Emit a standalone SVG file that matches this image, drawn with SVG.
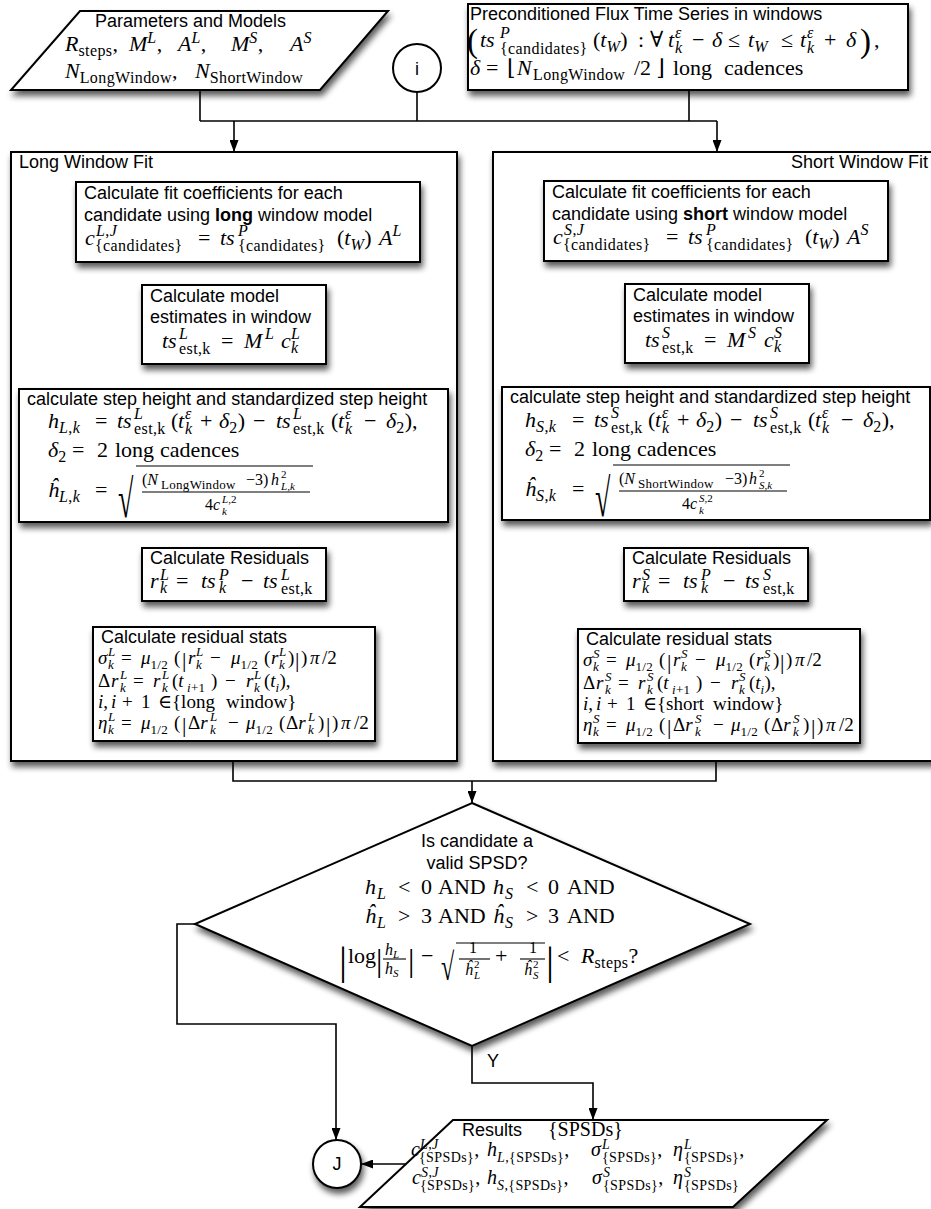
<svg xmlns="http://www.w3.org/2000/svg" width="931" height="1209" viewBox="0 0 931 1209">
<defs>
<style>
.t{font-family:"Liberation Sans",Arial,sans-serif;font-size:18px;fill:#000}
.m{font-family:"Liberation Serif","DejaVu Serif",serif;font-size:22px;fill:#000}
.st{font-size:19px}
.f{font-size:16px}
.r20{font-size:20px}
.i{font-style:italic}
.s{font-size:16px;letter-spacing:.4px}
.s2{font-size:13px;letter-spacing:.3px}
.s3{font-size:11px}
.s4{font-size:14px;letter-spacing:.4px}
.b{font-weight:bold}
.big{font-size:33px}
.bar{font-size:22px}
.box{fill:#fff;stroke:#000;stroke-width:2}
.ln{fill:none;stroke:#000;stroke-width:1.6}
.rule{stroke:#000;stroke-width:1.1;fill:none}
</style>
<filter id="sh" x="-20%" y="-20%" width="140%" height="150%">
<feGaussianBlur in="SourceAlpha" stdDeviation="3"/>
<feOffset dx="2" dy="5"/>
<feComponentTransfer><feFuncA type="linear" slope="0.65"/></feComponentTransfer>
<feMerge><feMergeNode/><feMergeNode in="SourceGraphic"/></feMerge>
</filter>
<marker id="ah" viewBox="0 0 12 9" refX="12" refY="4.5" markerWidth="12" markerHeight="9" markerUnits="userSpaceOnUse" orient="auto"><path d="M0,0 L12,4.5 L0,9 z" fill="#000"/></marker>
</defs>
<rect x="0" y="0" width="931" height="1209" fill="#fff"/>

<g id="params">
<polygon class="box" filter="url(#sh)" points="80,11 388,11 320,90 11,90"/>
<text class="t" x="95" y="27">Parameters and Models</text>
<text class="m"><tspan class="i" x="65" y="51">R</tspan><tspan class="s" y="56">steps</tspan><tspan y="51">,</tspan><tspan class="i" x="129" y="51">M</tspan><tspan class="s i" y="43">L</tspan><tspan y="51">,</tspan><tspan class="i" x="178" y="51">A</tspan><tspan class="s i" y="43">L</tspan><tspan y="51">,</tspan><tspan class="i" x="231" y="51">M</tspan><tspan class="s i" y="43">S</tspan><tspan y="51">,</tspan><tspan class="i" x="290" y="51">A</tspan><tspan class="s i" y="43">S</tspan></text>
<text class="m"><tspan class="i" x="65" y="78">N</tspan><tspan class="s" y="83">LongWindow</tspan><tspan y="78">,</tspan><tspan class="i" x="195" y="78">N</tspan><tspan class="s" y="83">ShortWindow</tspan></text>
</g>

<g id="connector-i">
<circle class="box" cx="417" cy="68" r="24"/>
<text class="t" x="417" y="75" text-anchor="middle">i</text>
</g>

<g id="precond">
<rect class="box" filter="url(#sh)" x="468" y="4" width="440" height="86"/>
<text class="t" x="470" y="20">Preconditioned Flux Time Series in windows</text>
<text class="m"><tspan class="big" x="467" y="52">(</tspan><tspan class="i" x="480" y="47">ts</tspan><tspan class="s i" x="500" y="38">P</tspan><tspan class="s" x="500" y="54">{candidates}</tspan><tspan x="593" y="47">(</tspan><tspan class="i">t</tspan><tspan class="s i" y="52">W</tspan><tspan y="47">)</tspan><tspan x="638">:</tspan><tspan x="650">∀</tspan><tspan class="i" x="668">t</tspan><tspan class="s i" x="675" y="38">ε</tspan><tspan class="s i" x="675" y="53">k</tspan><tspan x="692" y="47">−</tspan><tspan class="i" x="712">δ</tspan><tspan x="728">≤</tspan><tspan class="i" x="748">t</tspan><tspan class="s i" y="52">W</tspan><tspan x="781" y="47">≤</tspan><tspan class="i" x="800">t</tspan><tspan class="s i" x="807" y="38">ε</tspan><tspan class="s i" x="807" y="53">k</tspan><tspan x="824" y="47">+</tspan><tspan class="i" x="846">δ</tspan><tspan class="big" x="860" y="52">)</tspan><tspan x="874" y="47">,</tspan></text>
<text class="m"><tspan class="i" x="470" y="75">δ</tspan><tspan x="486">=</tspan><tspan x="507">⌊</tspan><tspan class="i" x="517">N</tspan><tspan class="s" x="533" y="80">LongWindow</tspan><tspan x="634" y="75">/2</tspan><tspan x="656">⌋</tspan><tspan x="673">long</tspan><tspan x="724">cadences</tspan></text>
</g>

<g id="long-fit">
<rect class="box" filter="url(#sh)" x="11" y="152" width="446" height="609"/>
<text class="t" x="19" y="168">Long Window Fit</text>

<g id="long-coef">
<rect class="box" filter="url(#sh)" x="76" y="182" width="344" height="80"/>
<text class="t" x="84" y="199">Calculate fit coefficients for each</text>
<text class="t" x="84" y="221">candidate using <tspan class="b">long</tspan> window model</text>
<text class="m"><tspan class="i" x="85" y="245">c</tspan><tspan class="s" x="96" y="236"><tspan class="i">L</tspan>,<tspan class="i">J</tspan></tspan><tspan class="s" x="95" y="251">{candidates}</tspan><tspan x="198" y="245">=</tspan><tspan class="i" x="220">ts</tspan><tspan class="s i" x="238" y="236">P</tspan><tspan class="s" x="238" y="251">{candidates}</tspan><tspan x="337" y="245">(</tspan><tspan class="i">t</tspan><tspan class="s i" y="250">W</tspan><tspan y="245">)</tspan><tspan class="i" x="379">A</tspan><tspan class="s i" y="236">L</tspan></text>
</g>

<g id="long-model">
<rect class="box" filter="url(#sh)" x="142" y="285" width="184" height="79"/>
<text class="t" x="150" y="302">Calculate model</text>
<text class="t" x="150" y="323">estimates in window</text>
<text class="m"><tspan class="i" x="162" y="348">ts</tspan><tspan class="s i" x="179" y="339">L</tspan><tspan class="s" x="179" y="354">est,k</tspan><tspan x="221" y="348">=</tspan><tspan class="i" x="244">M</tspan><tspan class="s i" x="265" y="339">L</tspan><tspan class="i" x="281" y="348">c</tspan><tspan class="s i" x="291" y="339">L</tspan><tspan class="s i" x="291" y="353">k</tspan></text>
</g>

<g id="long-step">
<rect class="box" filter="url(#sh)" x="19" y="389" width="429" height="133"/>
<text class="t" x="27" y="405">calculate step height and standardized step height</text>
<text class="m"><tspan class="i" x="48" y="428">h</tspan><tspan class="s" x="59" y="433"><tspan class="i">L</tspan>,<tspan class="i">k</tspan></tspan><tspan x="95" y="428">=</tspan><tspan class="i" x="117">ts</tspan><tspan class="s i" x="134" y="419">L</tspan><tspan class="s" x="134" y="434">est,k</tspan><tspan x="171" y="428">(</tspan><tspan class="i" x="178">t</tspan><tspan class="s i" x="185" y="419">ε</tspan><tspan class="s i" x="185" y="434">k</tspan><tspan x="200" y="428">+</tspan><tspan class="i" x="219">δ</tspan><tspan class="s" y="433">2</tspan><tspan y="428">)</tspan><tspan x="253">−</tspan><tspan class="i" x="276">ts</tspan><tspan class="s i" x="293" y="419">L</tspan><tspan class="s" x="293" y="434">est,k</tspan><tspan x="331" y="428">(</tspan><tspan class="i" x="338">t</tspan><tspan class="s i" x="345" y="419">ε</tspan><tspan class="s i" x="345" y="434">k</tspan><tspan x="364" y="428">−</tspan><tspan class="i" x="386">δ</tspan><tspan class="s" y="433">2</tspan><tspan y="428">),</tspan></text>
<text class="m"><tspan class="i" x="48" y="457">δ</tspan><tspan class="s" y="462">2</tspan><tspan x="72" y="457">=</tspan><tspan x="97">2</tspan><tspan x="115">long</tspan><tspan x="160">cadences</tspan></text>
<text class="m"><tspan class="i" x="48" y="497">ĥ</tspan><tspan class="s" x="59" y="502"><tspan class="i">L</tspan>,<tspan class="i">k</tspan></tspan><tspan x="95" y="497">=</tspan></text>
<text class="m" transform="translate(118,517) scale(1,1.9)" style="font-size:28px">√</text>
<line class="rule" x1="136" y1="466" x2="313" y2="466"/>
<line class="rule" x1="142" y1="492" x2="310" y2="492"/>
<text class="m f"><tspan x="142" y="485">(</tspan><tspan class="i">N</tspan><tspan class="s2" x="161" y="489">LongWindow</tspan><tspan x="246" y="485">−3)</tspan><tspan class="i" x="271">h</tspan><tspan class="s3" x="281" y="478">2</tspan><tspan class="s3" x="281" y="490"><tspan class="i">L</tspan>,<tspan class="i">k</tspan></tspan></text>
<text class="m f"><tspan x="205" y="510">4</tspan><tspan class="i">c</tspan><tspan class="s3" x="222" y="503"><tspan class="i">L</tspan>,2</tspan><tspan class="s3 i" x="222" y="515">k</tspan></text>
</g>

<g id="long-resid">
<rect class="box" filter="url(#sh)" x="142" y="548" width="184" height="53"/>
<text class="t" x="150" y="564">Calculate Residuals</text>
<text class="m"><tspan class="i" x="150" y="588">r</tspan><tspan class="s i" x="160" y="580">L</tspan><tspan class="s i" x="160" y="593">k</tspan><tspan x="176" y="588">=</tspan><tspan class="i" x="201">ts</tspan><tspan class="s i" x="219" y="580">P</tspan><tspan class="s i" x="219" y="593">k</tspan><tspan x="241" y="588">−</tspan><tspan class="i" x="263">ts</tspan><tspan class="s i" x="281" y="580">L</tspan><tspan class="s" x="281" y="594">est,k</tspan></text>
</g>

<g id="long-stats">
<rect class="box" filter="url(#sh)" x="93" y="627" width="282" height="114"/>
<text class="t" x="101" y="643">Calculate residual stats</text>
<text class="m st"><tspan class="i" x="98" y="664">σ</tspan><tspan class="s2 i" x="108" y="656">L</tspan><tspan class="s2 i" x="108" y="669">k</tspan><tspan x="121" y="664">=</tspan><tspan class="i" x="141">μ</tspan><tspan class="s2" y="669">1/2</tspan><tspan x="174" y="664">(</tspan><tspan class="bar" x="182" y="667">|</tspan><tspan class="i" x="188" y="664">r</tspan><tspan class="s2 i" x="196" y="656">L</tspan><tspan class="s2 i" x="196" y="669">k</tspan><tspan x="210" y="664">−</tspan><tspan class="i" x="231">μ</tspan><tspan class="s2" y="669">1/2</tspan><tspan x="264" y="664">(</tspan><tspan class="i" x="271">r</tspan><tspan class="s2 i" x="279" y="656">L</tspan><tspan class="s2 i" x="279" y="669">k</tspan><tspan x="288" y="664">)</tspan><tspan class="bar" x="295" y="667">|</tspan><tspan x="301" y="664">)</tspan><tspan class="i" x="310">π</tspan><tspan x="322">/2</tspan></text>
<text class="m st"><tspan x="98" y="687">Δ</tspan><tspan class="i" x="111">r</tspan><tspan class="s2 i" x="120" y="679">L</tspan><tspan class="s2 i" x="120" y="692">k</tspan><tspan x="133" y="687">=</tspan><tspan class="i" x="153">r</tspan><tspan class="s2 i" x="162" y="679">L</tspan><tspan class="s2 i" x="162" y="692">k</tspan><tspan x="172" y="687">(</tspan><tspan class="i">t</tspan><tspan class="s2" x="187" y="692"><tspan class="i">i</tspan>+1</tspan><tspan x="211" y="687">)</tspan><tspan x="225">−</tspan><tspan class="i" x="246">r</tspan><tspan class="s2 i" x="254" y="679">L</tspan><tspan class="s2 i" x="254" y="692">k</tspan><tspan x="264" y="687">(</tspan><tspan class="i">t</tspan><tspan class="s2 i" y="692">i</tspan><tspan y="687">),</tspan></text>
<text class="m st"><tspan class="i" x="98" y="708">i</tspan><tspan>,</tspan><tspan class="i" x="111">i</tspan><tspan x="122">+</tspan><tspan x="141">1</tspan><tspan x="158">∈</tspan><tspan x="172">{long</tspan><tspan x="226">window}</tspan></text>
<text class="m st"><tspan class="i" x="98" y="729">η</tspan><tspan class="s2 i" x="108" y="721">L</tspan><tspan class="s2 i" x="108" y="734">k</tspan><tspan x="121" y="729">=</tspan><tspan class="i" x="141">μ</tspan><tspan class="s2" y="734">1/2</tspan><tspan x="174" y="729">(</tspan><tspan class="bar" x="182" y="732">|</tspan><tspan x="188" y="729">Δ</tspan><tspan class="i">r</tspan><tspan class="s2 i" x="210" y="721">L</tspan><tspan class="s2 i" x="210" y="734">k</tspan><tspan x="228" y="729">−</tspan><tspan class="i" x="246">μ</tspan><tspan class="s2" y="734">1/2</tspan><tspan x="279" y="729">(</tspan><tspan x="286">Δ</tspan><tspan class="i">r</tspan><tspan class="s2 i" x="308" y="721">L</tspan><tspan class="s2 i" x="308" y="734">k</tspan><tspan x="318" y="729">)</tspan><tspan class="bar" x="326" y="732">|</tspan><tspan x="332" y="729">)</tspan><tspan class="i" x="341">π</tspan><tspan x="354">/2</tspan></text>
</g>
</g>

<g id="short-fit">
<rect class="box" filter="url(#sh)" x="493" y="152" width="447" height="609"/>
<text class="t" x="928" y="168" text-anchor="end">Short Window Fit</text>

<g id="short-coef" transform="translate(468,-1)">
<rect class="box" filter="url(#sh)" x="76" y="182" width="344" height="80"/>
<text class="t" x="84" y="199">Calculate fit coefficients for each</text>
<text class="t" x="84" y="221">candidate using <tspan class="b">short</tspan> window model</text>
<text class="m"><tspan class="i" x="85" y="245">c</tspan><tspan class="s" x="96" y="236"><tspan class="i">S</tspan>,<tspan class="i">J</tspan></tspan><tspan class="s" x="95" y="251">{candidates}</tspan><tspan x="198" y="245">=</tspan><tspan class="i" x="220">ts</tspan><tspan class="s i" x="238" y="236">P</tspan><tspan class="s" x="238" y="251">{candidates}</tspan><tspan x="337" y="245">(</tspan><tspan class="i">t</tspan><tspan class="s i" y="250">W</tspan><tspan y="245">)</tspan><tspan class="i" x="379">A</tspan><tspan class="s i" y="236">S</tspan></text>
</g>

<g id="short-model" transform="translate(483,-1)">
<rect class="box" filter="url(#sh)" x="142" y="285" width="184" height="79"/>
<text class="t" x="150" y="302">Calculate model</text>
<text class="t" x="150" y="323">estimates in window</text>
<text class="m"><tspan class="i" x="162" y="348">ts</tspan><tspan class="s i" x="179" y="339">S</tspan><tspan class="s" x="179" y="354">est,k</tspan><tspan x="221" y="348">=</tspan><tspan class="i" x="244">M</tspan><tspan class="s i" x="265" y="339">S</tspan><tspan class="i" x="281" y="348">c</tspan><tspan class="s i" x="291" y="339">S</tspan><tspan class="s i" x="291" y="353">k</tspan></text>
</g>

<g id="short-step">
<rect class="box" filter="url(#sh)" x="502" y="387" width="428" height="133"/>
<text class="t" x="510" y="403">calculate step height and standardized step height</text>
<g transform="translate(477,-1)">
<text class="m"><tspan class="i" x="48" y="428">h</tspan><tspan class="s" x="59" y="433"><tspan class="i">S</tspan>,<tspan class="i">k</tspan></tspan><tspan x="95" y="428">=</tspan><tspan class="i" x="117">ts</tspan><tspan class="s i" x="134" y="419">S</tspan><tspan class="s" x="134" y="434">est,k</tspan><tspan x="171" y="428">(</tspan><tspan class="i" x="178">t</tspan><tspan class="s i" x="185" y="419">ε</tspan><tspan class="s i" x="185" y="434">k</tspan><tspan x="200" y="428">+</tspan><tspan class="i" x="219">δ</tspan><tspan class="s" y="433">2</tspan><tspan y="428">)</tspan><tspan x="253">−</tspan><tspan class="i" x="276">ts</tspan><tspan class="s i" x="293" y="419">S</tspan><tspan class="s" x="293" y="434">est,k</tspan><tspan x="331" y="428">(</tspan><tspan class="i" x="338">t</tspan><tspan class="s i" x="345" y="419">ε</tspan><tspan class="s i" x="345" y="434">k</tspan><tspan x="364" y="428">−</tspan><tspan class="i" x="386">δ</tspan><tspan class="s" y="433">2</tspan><tspan y="428">),</tspan></text>
<text class="m"><tspan class="i" x="48" y="457">δ</tspan><tspan class="s" y="462">2</tspan><tspan x="72" y="457">=</tspan><tspan x="97">2</tspan><tspan x="115">long</tspan><tspan x="160">cadences</tspan></text>
<text class="m"><tspan class="i" x="48" y="497">ĥ</tspan><tspan class="s" x="59" y="502"><tspan class="i">S</tspan>,<tspan class="i">k</tspan></tspan><tspan x="95" y="497">=</tspan></text>
<text class="m" transform="translate(118,517) scale(1,1.9)" style="font-size:28px">√</text>
<line class="rule" x1="136" y1="466" x2="313" y2="466"/>
<line class="rule" x1="142" y1="492" x2="310" y2="492"/>
<text class="m f"><tspan x="142" y="485">(</tspan><tspan class="i">N</tspan><tspan class="s2" x="161" y="489">ShortWindow</tspan><tspan x="248" y="485">−3)</tspan><tspan class="i" x="272">h</tspan><tspan class="s3" x="282" y="478">2</tspan><tspan class="s3" x="282" y="490"><tspan class="i">S</tspan>,<tspan class="i">k</tspan></tspan></text>
<text class="m f"><tspan x="205" y="510">4</tspan><tspan class="i">c</tspan><tspan class="s3" x="222" y="503"><tspan class="i">S</tspan>,2</tspan><tspan class="s3 i" x="222" y="515">k</tspan></text>
</g>
</g>

<g id="short-resid" transform="translate(482,0)">
<rect class="box" filter="url(#sh)" x="142" y="548" width="184" height="53"/>
<text class="t" x="150" y="564">Calculate Residuals</text>
<text class="m"><tspan class="i" x="150" y="588">r</tspan><tspan class="s i" x="160" y="580">S</tspan><tspan class="s i" x="160" y="593">k</tspan><tspan x="176" y="588">=</tspan><tspan class="i" x="201">ts</tspan><tspan class="s i" x="219" y="580">P</tspan><tspan class="s i" x="219" y="593">k</tspan><tspan x="241" y="588">−</tspan><tspan class="i" x="263">ts</tspan><tspan class="s i" x="281" y="580">S</tspan><tspan class="s" x="281" y="594">est,k</tspan></text>
</g>

<g id="short-stats" transform="translate(485,2)">
<rect class="box" filter="url(#sh)" x="93" y="627" width="282" height="114"/>
<text class="t" x="101" y="643">Calculate residual stats</text>
<text class="m st"><tspan class="i" x="98" y="664">σ</tspan><tspan class="s2 i" x="108" y="656">S</tspan><tspan class="s2 i" x="108" y="669">k</tspan><tspan x="121" y="664">=</tspan><tspan class="i" x="141">μ</tspan><tspan class="s2" y="669">1/2</tspan><tspan x="174" y="664">(</tspan><tspan class="bar" x="182" y="667">|</tspan><tspan class="i" x="188" y="664">r</tspan><tspan class="s2 i" x="196" y="656">S</tspan><tspan class="s2 i" x="196" y="669">k</tspan><tspan x="210" y="664">−</tspan><tspan class="i" x="231">μ</tspan><tspan class="s2" y="669">1/2</tspan><tspan x="264" y="664">(</tspan><tspan class="i" x="271">r</tspan><tspan class="s2 i" x="279" y="656">S</tspan><tspan class="s2 i" x="279" y="669">k</tspan><tspan x="288" y="664">)</tspan><tspan class="bar" x="295" y="667">|</tspan><tspan x="301" y="664">)</tspan><tspan class="i" x="310">π</tspan><tspan x="322">/2</tspan></text>
<text class="m st"><tspan x="98" y="687">Δ</tspan><tspan class="i" x="111">r</tspan><tspan class="s2 i" x="120" y="679">S</tspan><tspan class="s2 i" x="120" y="692">k</tspan><tspan x="133" y="687">=</tspan><tspan class="i" x="153">r</tspan><tspan class="s2 i" x="162" y="679">S</tspan><tspan class="s2 i" x="162" y="692">k</tspan><tspan x="172" y="687">(</tspan><tspan class="i">t</tspan><tspan class="s2" x="187" y="692"><tspan class="i">i</tspan>+1</tspan><tspan x="211" y="687">)</tspan><tspan x="225">−</tspan><tspan class="i" x="246">r</tspan><tspan class="s2 i" x="254" y="679">S</tspan><tspan class="s2 i" x="254" y="692">k</tspan><tspan x="264" y="687">(</tspan><tspan class="i">t</tspan><tspan class="s2 i" y="692">i</tspan><tspan y="687">),</tspan></text>
<text class="m st"><tspan class="i" x="98" y="708">i</tspan><tspan>,</tspan><tspan class="i" x="111">i</tspan><tspan x="122">+</tspan><tspan x="141">1</tspan><tspan x="158">∈</tspan><tspan x="172">{short</tspan><tspan x="228">window}</tspan></text>
<text class="m st"><tspan class="i" x="98" y="729">η</tspan><tspan class="s2 i" x="108" y="721">S</tspan><tspan class="s2 i" x="108" y="734">k</tspan><tspan x="121" y="729">=</tspan><tspan class="i" x="141">μ</tspan><tspan class="s2" y="734">1/2</tspan><tspan x="174" y="729">(</tspan><tspan class="bar" x="182" y="732">|</tspan><tspan x="188" y="729">Δ</tspan><tspan class="i">r</tspan><tspan class="s2 i" x="210" y="721">S</tspan><tspan class="s2 i" x="210" y="734">k</tspan><tspan x="228" y="729">−</tspan><tspan class="i" x="246">μ</tspan><tspan class="s2" y="734">1/2</tspan><tspan x="279" y="729">(</tspan><tspan x="286">Δ</tspan><tspan class="i">r</tspan><tspan class="s2 i" x="308" y="721">S</tspan><tspan class="s2 i" x="308" y="734">k</tspan><tspan x="318" y="729">)</tspan><tspan class="bar" x="326" y="732">|</tspan><tspan x="332" y="729">)</tspan><tspan class="i" x="341">π</tspan><tspan x="354">/2</tspan></text>
</g>
</g>

<g id="decision">
<polygon class="box" filter="url(#sh)" points="472,803 750,924 472,1046 195,924"/>
<text class="t" x="477" y="847" text-anchor="middle">Is candidate a</text>
<text class="t" x="477" y="869" text-anchor="middle">valid SPSD?</text>
<text class="m"><tspan class="i" x="365" y="894">h</tspan><tspan class="s i" x="377" y="899">L</tspan><tspan x="398" y="894">&lt;</tspan><tspan x="421">0</tspan><tspan x="438">AND</tspan><tspan class="i" x="493">h</tspan><tspan class="s i" x="505" y="899">S</tspan><tspan x="526" y="894">&lt;</tspan><tspan x="548">0</tspan><tspan x="567">AND</tspan></text>
<text class="m"><tspan class="i" x="365" y="923">ĥ</tspan><tspan class="s i" x="377" y="928">L</tspan><tspan x="398" y="923">&gt;</tspan><tspan x="421">3</tspan><tspan x="438">AND</tspan><tspan class="i" x="493">ĥ</tspan><tspan class="s i" x="505" y="928">S</tspan><tspan x="526" y="923">&gt;</tspan><tspan x="548">3</tspan><tspan x="567">AND</tspan></text>
<text class="m"><tspan x="339" y="974" style="font-size:40px">|</tspan><tspan x="348" y="963">log</tspan><tspan x="376" y="971" style="font-size:32px">|</tspan><tspan x="408" y="971" style="font-size:32px">|</tspan><tspan x="421" y="963">−</tspan><tspan x="546" y="974" style="font-size:40px">|</tspan><tspan x="557" y="963">&lt;</tspan><tspan class="i" x="581">R</tspan><tspan class="s" y="968">steps</tspan><tspan y="963">?</tspan></text>
<text class="m f"><tspan class="i" x="385" y="955">h</tspan><tspan class="s3 i" y="958">L</tspan><tspan class="i" x="385" y="974">h</tspan><tspan class="s3 i" y="977">S</tspan></text>
<line class="rule" x1="383" y1="959" x2="406" y2="959"/>
<text class="m" transform="translate(441,980) scale(1,1.6)" style="font-size:24px">√</text>
<line class="rule" x1="456" y1="943" x2="545" y2="943"/>
<text class="m f"><tspan x="469" y="953">1</tspan><tspan class="i" x="465" y="975">ĥ</tspan><tspan class="s3" x="474" y="968">2</tspan><tspan class="s3 i" x="474" y="979">L</tspan></text>
<line class="rule" x1="459" y1="959" x2="490" y2="959"/>
<text class="m" x="495" y="963">+</text>
<text class="m f"><tspan x="529" y="953">1</tspan><tspan class="i" x="524" y="975">ĥ</tspan><tspan class="s3" x="533" y="968">2</tspan><tspan class="s3 i" x="533" y="979">S</tspan></text>
<line class="rule" x1="520" y1="959" x2="545" y2="959"/>
</g>

<text class="t" x="487" y="1067">Y</text>

<g id="results">
<polygon class="box" filter="url(#sh)" points="453,1120 827,1120 733,1207 360,1207"/>
<text class="t" x="462" y="1136">Results</text>
<text class="m r20" x="548" y="1136">{SPSDs}</text>
<text class="m r20"><tspan class="i" x="411" y="1156">c</tspan><tspan class="s4" x="420" y="1149"><tspan class="i">L</tspan>,<tspan class="i">J</tspan></tspan><tspan class="s4" x="419" y="1162">{SPSDs}</tspan><tspan y="1156">,</tspan><tspan class="i" x="487">h</tspan><tspan class="s4" y="1162"><tspan class="i">L</tspan>,{SPSDs}</tspan><tspan y="1156">,</tspan><tspan class="i" x="591">σ</tspan><tspan class="s4 i" x="602" y="1149">L</tspan><tspan class="s4" x="602" y="1162">{SPSDs}</tspan><tspan y="1156">,</tspan><tspan class="i" x="673">η</tspan><tspan class="s4 i" x="684" y="1149">L</tspan><tspan class="s4" x="684" y="1162">{SPSDs}</tspan><tspan y="1156">,</tspan></text>
<text class="m r20"><tspan class="i" x="412" y="1184">c</tspan><tspan class="s4" x="421" y="1177"><tspan class="i">S</tspan>,<tspan class="i">J</tspan></tspan><tspan class="s4" x="420" y="1190">{SPSDs}</tspan><tspan y="1184">,</tspan><tspan class="i" x="487">h</tspan><tspan class="s4" y="1190"><tspan class="i">S</tspan>,{SPSDs}</tspan><tspan y="1184">,</tspan><tspan class="i" x="592">σ</tspan><tspan class="s4 i" x="603" y="1177">S</tspan><tspan class="s4" x="603" y="1190">{SPSDs}</tspan><tspan y="1184">,</tspan><tspan class="i" x="673">η</tspan><tspan class="s4 i" x="684" y="1177">S</tspan><tspan class="s4" x="684" y="1190">{SPSDs}</tspan></text>
</g>

<g id="connector-j">
<circle class="box" filter="url(#sh)" cx="337" cy="1164" r="24"/>
<text class="t" x="337" y="1170" text-anchor="middle">J</text>
</g>

<g id="connectors" class="ln">
<polyline points="200,90 200,121"/>
<polyline points="417,92 417,121"/>
<polyline points="689,90 689,121"/>
<polyline points="200,121 717,121"/>
<polyline points="234,121 234,152" marker-end="url(#ah)"/>
<polyline points="717,121 717,152" marker-end="url(#ah)"/>
<polyline points="233,761 233,781 716,781 716,761"/>
<polyline points="472,781 472,803" marker-end="url(#ah)"/>
<polyline points="195,924 177,924 177,1024 336,1024 336,1140" marker-end="url(#ah)"/>
<polyline points="472,1046 472,1083 593,1083 593,1120" marker-end="url(#ah)"/>
<polyline points="406,1164 361,1164" marker-end="url(#ah)"/>
</g>
</svg>
